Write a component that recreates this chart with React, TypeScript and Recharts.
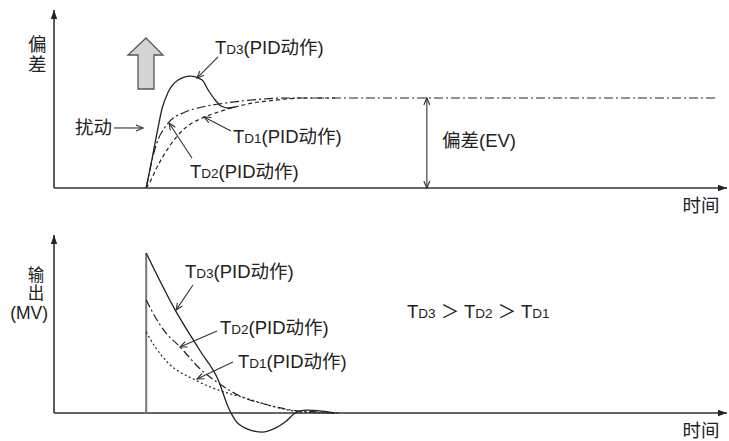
import { LineChart, Line, XAxis, YAxis, ReferenceLine, ReferenceDot } from "recharts"

// time axis, arbitrary units, disturbance applied at t = 0
const timeDomain = [-13.7, 86.3]

// upper panel: deviation after the disturbance (EV = 1)
const devDomain = [0, 1.978]
const devTd3 = [
  { t: 0, v: 0 }, { t: 0.89, v: 0.333 }, { t: 1.63, v: 0.622 }, { t: 2.38, v: 0.889 },
  { t: 3.27, v: 1.067 }, { t: 4.75, v: 1.2 }, { t: 6.54, v: 1.244 }, { t: 8.32, v: 1.2 },
  { t: 9.21, v: 1.089 }, { t: 10.25, v: 0.978 }, { t: 11.14, v: 0.911 }, { t: 12.18, v: 0.889 },
  { t: 13.22, v: 0.9 },
]
const devTd2 = [
  { t: 0, v: 0 }, { t: 1.34, v: 0.444 }, { t: 3.27, v: 0.722 }, { t: 5.79, v: 0.844 },
  { t: 8.32, v: 0.9 }, { t: 11.74, v: 0.944 }, { t: 15.75, v: 0.978 }, { t: 20.65, v: 1 },
  { t: 84.7, v: 1 },
]
const devTd1 = [
  { t: 0, v: 0 }, { t: 0.3, v: 0.033 }, { t: 1.78, v: 0.256 }, { t: 3.27, v: 0.444 },
  { t: 5.79, v: 0.667 }, { t: 8.32, v: 0.778 }, { t: 10.7, v: 0.844 }, { t: 13.22, v: 0.9 },
  { t: 15.75, v: 0.944 }, { t: 18.13, v: 0.967 }, { t: 23.18, v: 1 }, { t: 28.08, v: 1 },
]

// lower panel: controller output (MV)
const outDomain = [-0.244, 1.978]
const outStep = 1.778
const outTd3 = [
  { t: 0, v: 1.778 }, { t: 4.31, v: 1.144 }, { t: 8.02, v: 0.689 }, { t: 10.7, v: 0.367 },
  { t: 12.18, v: 0.067 }, { t: 13.22, v: -0.078 }, { t: 14.71, v: -0.167 }, { t: 17.24, v: -0.211 },
  { t: 19.17, v: -0.167 }, { t: 20.65, v: -0.1 }, { t: 22.14, v: 0 }, { t: 23.63, v: 0.033 },
  { t: 26.15, v: 0.022 }, { t: 28.08, v: 0 },
]
const outTd2 = [
  { t: 0, v: 1.256 }, { t: 1.34, v: 1.067 }, { t: 2.82, v: 0.9 }, { t: 5.05, v: 0.733 },
  { t: 7.73, v: 0.511 }, { t: 10.7, v: 0.333 }, { t: 14.26, v: 0.178 }, { t: 18.13, v: 0.089 },
  { t: 21.69, v: 0.033 }, { t: 25.56, v: 0.011 }, { t: 28.8, v: 0 },
]
const outTd1 = [
  { t: 0, v: 0.9 }, { t: 1.34, v: 0.733 }, { t: 3.27, v: 0.556 }, { t: 7.28, v: 0.367 },
  { t: 10.7, v: 0.256 }, { t: 14.71, v: 0.167 }, { t: 19.17, v: 0.067 }, { t: 23.18, v: 0.011 },
  { t: 28.08, v: 0 },
]

const FONT = "'Liberation Sans', Arial, 'Noto Sans CJK SC', sans-serif"
const INK = "#222"
const FS = 18.5
const SUB = 13.5

const arrow = (kind: "axis" | "open" | "both") => (p: any) => {
  const { x1, y1, x2, y2 } = p
  const a = Math.atan2(y2 - y1, x2 - x1)
  const head = (x: number, y: number, ang: number, len: number, w: number) => {
    const bx = x - len * Math.cos(ang)
    const by = y - len * Math.sin(ang)
    const nx = -Math.sin(ang) * w
    const ny = Math.cos(ang) * w
    return [`${bx + nx},${by + ny}`, `${x},${y}`, `${bx - nx},${by - ny}`]
  }
  if (kind === "axis") {
    const h = head(x2, y2, a, 9, 3.2)
    return (
      <g>
        <line x1={x1} y1={y1} x2={x2} y2={y2} stroke="#333" strokeWidth={1.6} />
        <polygon points={h.join(" ")} fill="#222" />
      </g>
    )
  }
  const h2 = head(x2, y2, a, 7, 3)
  const h1 = head(x1, y1, a + Math.PI, 7, 3)
  return (
    <g>
      <line x1={x1} y1={y1} x2={x2} y2={y2} stroke="#333" strokeWidth={1.1} />
      <polyline points={h2.join(" ")} fill="none" stroke="#333" strokeWidth={1.1} />
      {kind === "both" && <polyline points={h1.join(" ")} fill="none" stroke="#333" strokeWidth={1.1} />}
    </g>
  )
}

const plainText = (s: string, anchor: "start" | "middle" = "start", size = FS) => (p: any) => (
  <text x={p.cx} y={p.cy} textAnchor={anchor} fontSize={size} fill={INK} fontFamily={FONT}>{s}</text>
)

const tdText = (n: string) => (p: any) => (
  <text x={p.cx} y={p.cy} fontSize={FS} fill={INK} fontFamily={FONT}>
    <tspan>T</tspan>
    <tspan fontSize={SUB}>D{n}</tspan>
    <tspan>(PID动作)</tspan>
  </text>
)

const orderText = (p: any) => (
  <text x={p.cx} y={p.cy} fontSize={FS} fill={INK} fontFamily={FONT}>
    <tspan>T</tspan><tspan fontSize={SUB}>D3</tspan>
    <tspan> ＞ T</tspan><tspan fontSize={SUB}>D2</tspan>
    <tspan> ＞ T</tspan><tspan fontSize={SUB}>D1</tspan>
  </text>
)

const bigArrow = (p: any) => {
  const { cx, cy } = p
  const pts = [
    [cx, cy], [cx + 17, cy + 17], [cx + 8, cy + 17], [cx + 8, cy + 51],
    [cx - 8, cy + 51], [cx - 8, cy + 17], [cx - 18, cy + 17],
  ]
  return <polygon points={pts.map((q) => q.join(",")).join(" ")} fill="#d4d4d4" stroke="#555" strokeWidth={1.3} />
}

const seg = (t1: number, v1: number, t2: number, v2: number) => [{ x: t1, y: v1 }, { x: t2, y: v2 }]

export default function App() {
  return (
    <div style={{ position: "absolute", left: 0, top: 0, width: 729, height: 441, background: "#fff" }}>
      <div style={{ position: "absolute", left: 0, top: 0 }}>
        <LineChart width={729} height={215} margin={{ top: 10, right: 2, bottom: 27, left: 54 }}>
          <XAxis type="number" dataKey="t" domain={timeDomain} hide allowDataOverflow />
          <YAxis type="number" dataKey="v" domain={devDomain} hide allowDataOverflow />
          <ReferenceLine segment={seg(-13.7, 0, 86.3, 0)} ifOverflow="visible" shape={arrow("axis")} />
          <ReferenceLine segment={seg(-13.7, 0, -13.7, 1.978)} ifOverflow="visible" shape={arrow("axis")} />
          <Line data={devTd2} dataKey="v" type="monotone" stroke={INK} strokeWidth={1.2} strokeDasharray="9 3 2 3" dot={false} isAnimationActive={false} />
          <Line data={devTd1} dataKey="v" type="monotone" stroke={INK} strokeWidth={1.2} strokeDasharray="4 3" dot={false} isAnimationActive={false} />
          <Line data={devTd3} dataKey="v" type="monotone" stroke={INK} strokeWidth={1.3} dot={false} isAnimationActive={false} />
          <ReferenceLine segment={seg(41.7, 0, 41.7, 1)} ifOverflow="visible" shape={arrow("both")} />
          <ReferenceLine segment={seg(10.67, 1.456, 7.55, 1.222)} ifOverflow="visible" shape={arrow("open")} />
          <ReferenceLine segment={seg(-4.78, 0.667, -0.48, 0.667)} ifOverflow="visible" shape={arrow("open")} />
          <ReferenceLine segment={seg(12.6, 0.633, 8.59, 0.789)} ifOverflow="visible" shape={arrow("open")} />
          <ReferenceLine segment={seg(6.8, 0.333, 3.39, 0.722)} ifOverflow="visible" shape={arrow("open")} />
          <ReferenceDot x={-0.03} y={1.667} ifOverflow="visible" shape={bigArrow} />
          <ReferenceDot x={-16.2} y={1.522} ifOverflow="visible" shape={plainText("偏", "middle")} />
          <ReferenceDot x={-16.2} y={1.3} ifOverflow="visible" shape={plainText("差", "middle")} />
          <ReferenceDot x={10.22} y={1.489} ifOverflow="visible" shape={tdText("3")} />
          <ReferenceDot x={-10.58} y={0.6} ifOverflow="visible" shape={plainText("扰动")} />
          <ReferenceDot x={12.9} y={0.5} ifOverflow="visible" shape={tdText("1")} />
          <ReferenceDot x={6.51} y={0.111} ifOverflow="visible" shape={tdText("2")} />
          <ReferenceDot x={43.95} y={0.456} ifOverflow="visible" shape={plainText("偏差(EV)")} />
          <ReferenceDot x={79.7} y={-0.267} ifOverflow="visible" shape={plainText("时间")} />
        </LineChart>
      </div>
      <div style={{ position: "absolute", left: 0, top: 215 }}>
        <LineChart width={729} height={226} margin={{ top: 20, right: 2, bottom: 6, left: 54 }}>
          <XAxis type="number" dataKey="t" domain={timeDomain} hide allowDataOverflow />
          <YAxis type="number" dataKey="v" domain={outDomain} hide allowDataOverflow />
          <ReferenceLine segment={seg(-13.7, 0, 86.3, 0)} ifOverflow="visible" shape={arrow("axis")} />
          <ReferenceLine segment={seg(-13.7, 0, -13.7, 1.978)} ifOverflow="visible" shape={arrow("axis")} />
          <ReferenceLine segment={seg(0, 0, 0, outStep)} ifOverflow="visible" stroke="#777" strokeWidth={2} />
          <Line data={outTd1} dataKey="v" type="monotone" stroke={INK} strokeWidth={1.2} strokeDasharray="2 2.5" dot={false} isAnimationActive={false} />
          <Line data={outTd2} dataKey="v" type="monotone" stroke={INK} strokeWidth={1.2} strokeDasharray="8 3 2 3" dot={false} isAnimationActive={false} />
          <Line data={outTd3} dataKey="v" type="monotone" stroke={INK} strokeWidth={1.3} dot={false} isAnimationActive={false} />
          <ReferenceLine segment={seg(6.95, 1.422, 4.43, 1.144)} ifOverflow="visible" shape={arrow("open")} />
          <ReferenceLine segment={seg(10.52, 0.911, 5.02, 0.733)} ifOverflow="visible" shape={arrow("open")} />
          <ReferenceLine segment={seg(12.9, 0.567, 7.55, 0.378)} ifOverflow="visible" shape={arrow("open")} />
          <ReferenceDot x={-16.37} y={1.467} ifOverflow="visible" shape={plainText("输", "middle", 16.5)} />
          <ReferenceDot x={-16.37} y={1.267} ifOverflow="visible" shape={plainText("出", "middle", 16.5)} />
          <ReferenceDot x={-17.4} y={1.045} ifOverflow="visible" shape={plainText("(MV)", "middle", 17.5)} />
          <ReferenceDot x={5.77} y={1.5} ifOverflow="visible" shape={tdText("3")} />
          <ReferenceDot x={10.96} y={0.878} ifOverflow="visible" shape={tdText("2")} />
          <ReferenceDot x={13.64} y={0.5} ifOverflow="visible" shape={tdText("1")} />
          <ReferenceDot x={38.75} y={1.056} ifOverflow="visible" shape={orderText} />
          <ReferenceDot x={79.7} y={-0.267} ifOverflow="visible" shape={plainText("时间")} />
        </LineChart>
      </div>
    </div>
  )
}
